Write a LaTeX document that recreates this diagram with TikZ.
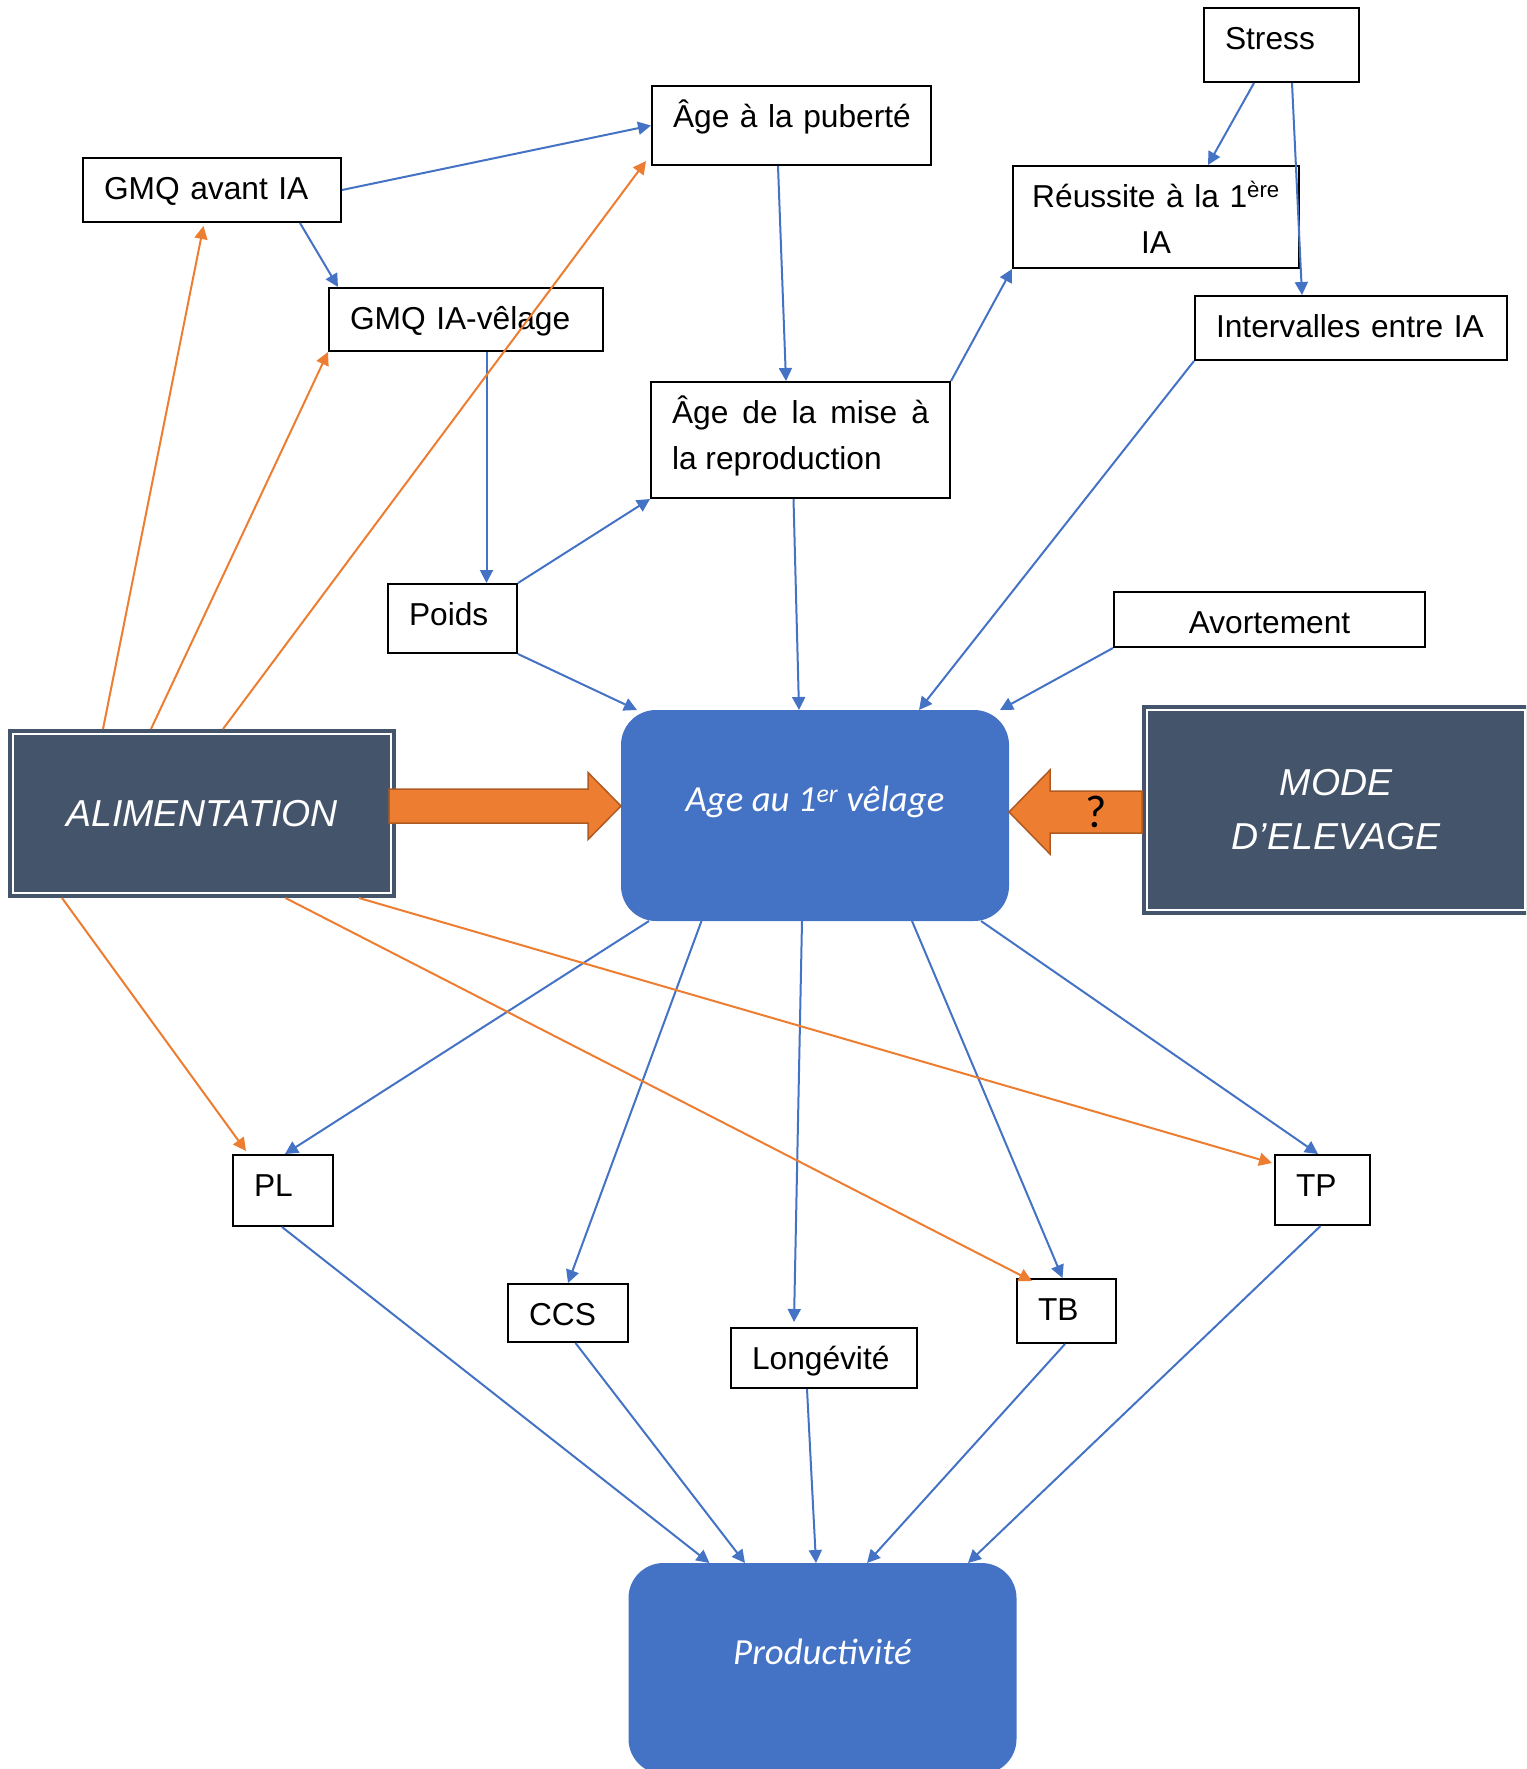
\documentclass[tikz,border=0pt]{standalone}
\usepackage{fontspec}
\setmainfont{Liberation Sans}
\newfontfamily\calibri{Carlito}
\usetikzlibrary{arrows.meta,calc}

\definecolor{lineblue}{HTML}{4472C4}
\definecolor{lineorange}{HTML}{ED7D31}
\definecolor{slate}{HTML}{44546A}
\definecolor{darkorange}{HTML}{AE5A21}

\begin{document}
\begin{tikzpicture}[
  x=1pt, y=-1pt,
  box/.style 2 args={draw, fill=white, line width=2pt, align=left, inner xsep=21pt, inner ysep=0pt,
    minimum width=#1pt, text width=#1pt-42pt, minimum height=#2pt, text height=41pt, text depth=#2pt-41pt,
    font=\fontsize{31.7}{46}\selectfont},
  factor/.style 2 args={fill=slate, draw=slate, double=white, double distance=2pt, line width=4pt, outer sep=5pt,
    minimum width=#1pt, minimum height=#2pt, align=center, text=white, font=\fontsize{37.5}{54}\selectfont\itshape},
  hub/.style={fill=lineblue, rounded corners=35pt, minimum width=388pt, minimum height=211pt, outer sep=0pt,
    text=white, text height=26pt, text depth=34pt, font=\calibri\fontsize{36.8}{43}\selectfont\itshape},
  arr/.style={line width=2pt, -{Triangle[length=13pt, width=13pt]}},
  barr/.style={arr, draw=lineblue},
  oarr/.style={arr, draw=lineorange},
  blockarr/.style={fill=lineorange, draw=darkorange, line width=1.5pt, line join=miter}
]
\useasboundingbox (0,0) rectangle (1526,1769);
\clip (0,0) rectangle (1526,1769);

\node[factor={378}{159}] (alim) at (202,813.5) {ALIMENTATION};
\node[factor={378}{200}] (mode) at (1336,810) {MODE\\D’ELEVAGE};
\node[hub] (age) at (815,815.5) {Age au 1\textsuperscript{er} vêlage};
\node[hub] (prod) at (822.5,1668.5) {Productivité};

\node[box={155}{74}] (stress) at (1281.5,45) {Stress};
\node[box={286}{102}, align=center, inner xsep=10pt, text width=266pt] (reus) at (1156,217) {Réussite à la 1\textsuperscript{ère}\\IA};
\node[box={312}{64}] (inter) at (1351,328) {\mbox{Intervalles entre IA}};
\node[box={258}{64}] (gmqav) at (212,190) {GMQ avant IA};
\node[box={279}{79}] (pub) at (791.5,125.5) {\mbox{Âge à la puberté}};
\node[box={274}{63}] (gmqiv) at (466,319.5) {GMQ IA-vêlage};
\node[box={299}{116}, align=justify] (mise) at (800.5,440) {Âge de la mise à\linebreak la reproduction};
\node[box={129}{69}] (poids) at (452.5,618.5) {Poids};
\node[box={311}{55}, align=center] (avort) at (1269.5,619.5) {Avortement};
\node[box={100}{71}] (pl) at (283,1190.5) {PL};
\node[box={120}{58}] (ccs) at (568,1313) {CCS};
\node[box={186}{60}] (longev) at (824,1358) {Longévité};
\node[box={99}{64}] (tb) at (1066.5,1311) {TB};
\node[box={95}{70}] (tp) at (1322.5,1190) {TP};

\draw[barr] (gmqav.east) -- (pub.west);
\draw[barr] ([xshift=88pt]gmqav.south) -- ([xshift=-128pt]gmqiv.north);
\draw[barr] ([xshift=-13.5pt]pub.south) -- ([xshift=-14.5pt]mise.north);
\draw[barr] ([xshift=20.5pt]gmqiv.south) -- ([xshift=34pt]poids.north);
\draw[barr] (poids.north east) -- (mise.south west);
\draw[barr] (poids.south east) -- ([xshift=-178pt]age.north);
\draw[barr] ([xshift=-7pt]mise.south) -- ([xshift=-16pt]age.north);
\draw[barr] (mise.north east) -- (reus.south west);
\draw[barr] ([xshift=-27.5pt]stress.south) -- ([xshift=52pt]reus.north);
\draw[barr] ([xshift=10.5pt]stress.south) -- ([xshift=-49pt]inter.north);
\draw[barr] (inter.south west) -- ([xshift=104pt]age.north);
\draw[barr] (avort.south west) -- ([xshift=185pt]age.north);

\draw[barr] ([xshift=-166pt]age.south) -- ([xshift=2pt]pl.north);
\draw[barr] ([xshift=-113.5pt]age.south) -- (ccs.north);
\draw[barr] ([xshift=-13pt]age.south) -- ([xshift=-30pt,yshift=5pt]longev.north);
\draw[barr] ([xshift=97pt]age.south) -- ([xshift=-4pt]tb.north);
\draw[barr] ([xshift=166pt]age.south) -- ([xshift=-4.5pt]tp.north);

\draw[barr] ([xshift=-1pt]pl.south) -- ([xshift=-113pt]prod.north);
\draw[barr] ([xshift=7.5pt]ccs.south) -- ([xshift=-77.5pt]prod.north);
\draw[barr] ([xshift=-17pt]longev.south) -- ([xshift=-6.5pt]prod.north);
\draw[barr] ([xshift=-1.5pt]tb.south) -- ([xshift=44.5pt]prod.north);
\draw[barr] ([xshift=-2pt]tp.south) -- ([xshift=145.5pt]prod.north);

\draw[oarr] ([xshift=-99pt]alim.north) -- ([xshift=-8.5pt,yshift=-3pt]gmqav.south);
\draw[oarr] ([xshift=-51pt]alim.north) -- (gmqiv.south west);
\draw[oarr] ([xshift=21pt]alim.north) -- ([xshift=-5pt,yshift=5pt]pub.south west);
\draw[oarr] ([xshift=-140pt]alim.south) -- ([xshift=-37pt,yshift=3pt]pl.north);
\draw[oarr] ([xshift=83.5pt]alim.south) -- ([xshift=-34.5pt,yshift=-3pt]tb.north);
\draw[oarr] ([xshift=157pt]alim.south) -- ([xshift=-2pt,yshift=27pt]tp.west);

\coordinate (a1) at ([xshift=-7pt,yshift=7.5pt]alim.east);
\coordinate (a2) at ([yshift=9.5pt]age.west);
\draw[blockarr] ($(a1)+(0,-17)$) -- ($(a2)+(-33,-17)$) -- ($(a2)+(-33,-33.5)$) -- (a2)
  -- ($(a2)+(-33,33.5)$) -- ($(a2)+(-33,17)$) -- ($(a1)+(0,17)$) -- cycle;

\coordinate (m1) at ([yshift=-2pt]mode.west);
\coordinate (m2) at ([yshift=3.5pt]age.east);
\draw[blockarr] ($(m1)+(0,-21)$) -- ($(m2)+(41,-21)$) -- ($(m2)+(41,-42)$) -- (m2)
  -- ($(m2)+(41,42)$) -- ($(m2)+(41,21)$) -- ($(m1)+(0,21)$) -- cycle;
\node[font=\calibri\fontsize{46}{46}\selectfont] (q) at ($(m1)+(-46,0)$) {?};
\end{tikzpicture}
\end{document}
